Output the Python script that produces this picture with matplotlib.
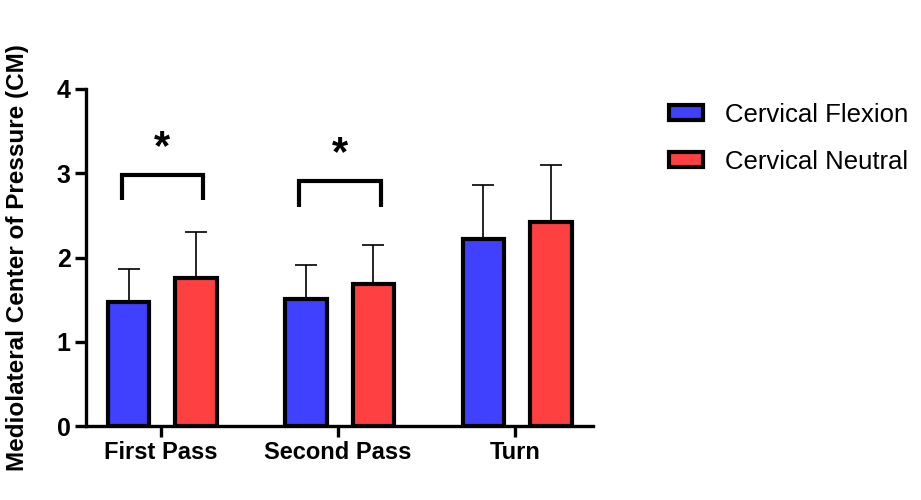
import numpy as np
import matplotlib
matplotlib.use("Agg")
import matplotlib.pyplot as plt

plt.rcParams['font.family'] = ['Liberation Sans', 'DejaVu Sans']

groups = ["First Pass", "Second Pass", "Turn"]
flexion = [1.47, 1.51, 2.22]
flexion_err = [0.39, 0.40, 0.64]
neutral = [1.76, 1.69, 2.42]
neutral_err = [0.54, 0.46, 0.68]

# significance brackets: (group index, top, leg bottom)
sig = [(0, 2.98, 2.68), (1, 2.91, 2.60)]

fig = plt.figure(figsize=(9.21, 5), dpi=100)
ax = fig.add_axes([0.0934, 0.148, 0.551, 0.674])

x = np.arange(len(groups))
w = 0.235
off = 0.19
ax.bar(x - off + 0.01, flexion, w, color="#4040ff", edgecolor="black", linewidth=3,
       label="Cervical Flexion", zorder=2)
ax.bar(x + off + 0.01, neutral, w, color="#ff4040", edgecolor="black", linewidth=3,
       label="Cervical Neutral", zorder=2)
ax.errorbar(x - off + 0.01, flexion, yerr=[np.zeros(3), flexion_err], fmt="none",
            ecolor="black", elinewidth=1.2, capsize=8, capthick=1.2, zorder=1)
ax.errorbar(x + off + 0.01, neutral, yerr=[np.zeros(3), neutral_err], fmt="none",
            ecolor="black", elinewidth=1.2, capsize=8, capthick=1.2, zorder=1)

for gi, top, bot in sig:
    x0 = gi - 0.22
    x1 = gi + 0.24
    ax.plot([x0, x0, x1, x1], [bot, top, top, bot], color="black", lw=3,
            solid_capstyle="butt", solid_joinstyle="miter")
    ax.text((x0 + x1) / 2, top + 0.08, "*", ha="center", va="bottom",
            fontsize=30, fontweight="bold")

ax.set_xlim(-0.42, 2.44)
ax.set_ylim(0, 4)
ax.set_yticks([0, 1, 2, 3, 4])
ax.set_xticks(x)
ax.set_xticklabels(groups, fontsize=17, fontweight="bold")
for lbl in ax.get_yticklabels():
    lbl.set_fontsize(18)
    lbl.set_fontweight("bold")
ax.set_ylabel("Mediolateral Center of Pressure (CM)", fontsize=17.5,
              fontweight="bold", labelpad=20)
ax.spines["top"].set_visible(False)
ax.spines["right"].set_visible(False)
ax.spines["left"].set_linewidth(2.4)
ax.spines["bottom"].set_linewidth(2.4)
ax.tick_params(axis="both", width=2.4, length=8, pad=3)

ax.legend(loc="upper left", bbox_to_anchor=(1.104, 1.028), frameon=False,
          fontsize=18.5, handlelength=1.3, handleheight=0.55, labelspacing=0.9,
          handletextpad=0.85)

plt.savefig("out.png", dpi=100)
